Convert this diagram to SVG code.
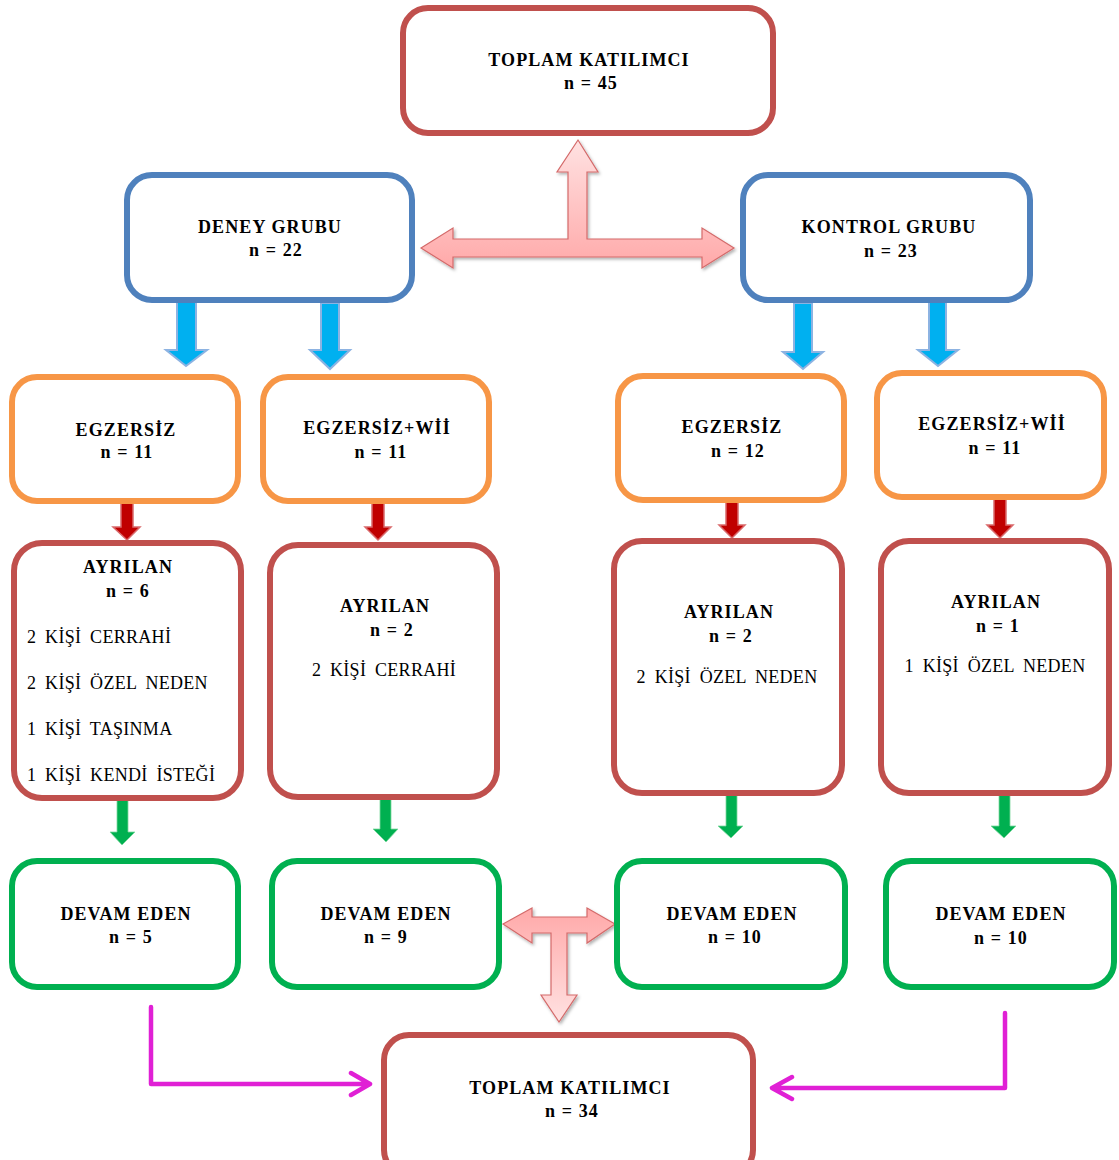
<svg xmlns="http://www.w3.org/2000/svg" width="1119" height="1160" viewBox="0 0 1119 1160">
<defs>
<linearGradient id="pinkUp" x1="0" y1="0" x2="0" y2="1"><stop offset="0" stop-color="#FFE2E2"/><stop offset="1" stop-color="#FFA9A9"/></linearGradient>
<linearGradient id="pinkDown" x1="0" y1="0" x2="0" y2="1"><stop offset="0" stop-color="#FFA9A9"/><stop offset="1" stop-color="#FFE2E2"/></linearGradient>
<filter id="sh" x="-10%" y="-10%" width="130%" height="130%"><feDropShadow dx="1.5" dy="2" stdDeviation="1.5" flood-color="#000" flood-opacity="0.3"/></filter>
</defs>
<style>
.box{fill:#fff;stroke-width:6}
.red{stroke:#C0504D}
.blue{stroke:#4F81BD}
.orange{stroke:#F79646}
.green{stroke:#00B050}
text{font-family:"Liberation Serif","Times New Roman",serif;font-size:18px;fill:#000}
.b{font-weight:bold;text-anchor:middle;letter-spacing:1.1px}
.c{text-anchor:middle}
.n{word-spacing:4px;letter-spacing:0.3px}
.pink{stroke:#D46A6A;stroke-width:1.2}
.cyan{fill:#00B0F0;stroke:#8DB3E2;stroke-width:2}
.dred{fill:#C00000;stroke:#D9696B;stroke-width:1.5}
.grn{fill:#00B050;stroke:#7FD8A0;stroke-width:0.8}
.mag{fill:none;stroke:#E020D5;stroke-width:4.5;stroke-linecap:round;stroke-linejoin:round}
</style>
<g id="connectors">
<path class="pink" fill="url(#pinkUp)" filter="url(#sh)" d="M578,140 L598,172 L587,172 L587,239 L702,239 L702,228 L734,248 L702,268 L702,257 L453,257 L453,268 L421,248 L453,228 L453,239 L568,239 L568,172 L557,172 Z"/>
<path class="pink" fill="url(#pinkDown)" filter="url(#sh)" d="M503,924 L532,908 L532,917 L587,917 L587,908 L615,924 L587,943 L587,933 L567,933 L567,995 L577,995 L559,1022 L541,995 L551,995 L551,933 L532,933 L532,943 Z"/>
<path class="cyan" d="M177,300 L196,300 L196,350 L207,350 L186,366 L166,350 L177,350 Z"/>
<path class="cyan" d="M321,303 L339,303 L339,350 L350,350 L330,369 L310,350 L321,350 Z"/>
<path class="cyan" d="M794,303 L812,303 L812,352 L823,352 L803,369 L783,352 L794,352 Z"/>
<path class="cyan" d="M929,300 L946,300 L946,350 L958,350 L938,366 L918,350 L929,350 Z"/>
<path class="dred" d="M121,502 L133,502 L133,527 L140,527 L127,540 L113,527 L121,527 Z"/>
<path class="dred" d="M372,501 L384,501 L384,527 L391,527 L378,540 L365,527 L372,527 Z"/>
<path class="dred" d="M726,500 L738,500 L738,525 L745,525 L732,538 L719,525 L726,525 Z"/>
<path class="dred" d="M994,497 L1006,497 L1006,525 L1013,525 L1000,538 L987,525 L994,525 Z"/>
<path class="grn" d="M117,800 L128,800 L128,832 L135,832 L122,845 L110,832 L117,832 Z"/>
<path class="grn" d="M380,797 L391,797 L391,829 L398,829 L386,842 L373,829 L380,829 Z"/>
<path class="grn" d="M726,792 L737,792 L737,826 L743,826 L731,838 L718,826 L726,826 Z"/>
<path class="grn" d="M999,792 L1010,792 L1010,826 L1016,826 L1004,838 L991,826 L999,826 Z"/>
<path class="mag" d="M151,1007 L151,1084 L370,1084 M351,1073 L370,1084 L351,1095"/>
<path class="mag" d="M1005,1013 L1005,1088 L772,1088 M792,1077 L772,1088 L792,1099"/>
</g>
<g id="total45"><rect class="box red" x="403" y="8" width="370" height="125" rx="25"/><text class="b" x="589" y="66">TOPLAM KATILIMCI</text><text class="b" x="591" y="89">n = 45</text></g>
<g id="deney"><rect class="box blue" x="127" y="175" width="285" height="125" rx="25"/><text class="b" x="270" y="233">DENEY GRUBU</text><text class="b" x="276" y="256">n = 22</text></g>
<g id="kontrol"><rect class="box blue" x="743" y="175" width="287" height="125" rx="25"/><text class="b" x="889" y="233">KONTROL GRUBU</text><text class="b" x="891" y="257">n = 23</text></g>
<g id="egz1"><rect class="box orange" x="12" y="377" width="226" height="124" rx="25"/><text class="b" x="126" y="436">EGZERSİZ</text><text class="b" x="127" y="458">n = 11</text></g>
<g id="egzwii1"><rect class="box orange" x="263" y="377" width="226" height="124" rx="25"/><text class="b" x="377" y="434">EGZERSİZ+Wİİ</text><text class="b" x="381" y="458">n = 11</text></g>
<g id="egz2"><rect class="box orange" x="618" y="376" width="226" height="124" rx="25"/><text class="b" x="732" y="433">EGZERSİZ</text><text class="b" x="738" y="457">n = 12</text></g>
<g id="egzwii2"><rect class="box orange" x="877" y="373" width="227" height="124" rx="25"/><text class="b" x="992" y="430">EGZERSİZ+Wİİ</text><text class="b" x="995" y="454">n = 11</text></g>
<g id="ayr1"><rect class="box red" x="14" y="543" width="227" height="255" rx="28"/><text class="b" x="128" y="573">AYRILAN</text><text class="b" x="128" y="597">n = 6</text>
<text class="n" x="27" y="643">2 KİŞİ CERRAHİ</text><text class="n" x="27" y="689">2 KİŞİ ÖZEL NEDEN</text><text class="n" x="27" y="735">1 KİŞİ TAŞINMA</text><text class="n" x="27" y="781">1 KİŞİ KENDİ İSTEĞİ</text></g>
<g id="ayr2"><rect class="box red" x="270" y="545" width="227" height="252" rx="28"/><text class="b" x="385" y="612">AYRILAN</text><text class="b" x="392" y="636">n = 2</text><text class="c n" x="384" y="676">2 KİŞİ CERRAHİ</text></g>
<g id="ayr3"><rect class="box red" x="614" y="541" width="228" height="252" rx="28"/><text class="b" x="729" y="618">AYRILAN</text><text class="b" x="731" y="642">n = 2</text><text class="c n" x="727" y="683">2 KİŞİ ÖZEL NEDEN</text></g>
<g id="ayr4"><rect class="box red" x="881" y="541" width="228" height="252" rx="28"/><text class="b" x="996" y="608">AYRILAN</text><text class="b" x="998" y="632">n = 1</text><text class="c n" x="995" y="672">1 KİŞİ ÖZEL NEDEN</text></g>
<g id="devam1"><rect class="box green" x="12" y="861" width="226" height="126" rx="25"/><text class="b" x="126" y="920">DEVAM EDEN</text><text class="b" x="131" y="943">n = 5</text></g>
<g id="devam2"><rect class="box green" x="272" y="861" width="227" height="126" rx="25"/><text class="b" x="386" y="920">DEVAM EDEN</text><text class="b" x="386" y="943">n = 9</text></g>
<g id="devam3"><rect class="box green" x="617" y="861" width="228" height="126" rx="25"/><text class="b" x="732" y="920">DEVAM EDEN</text><text class="b" x="735" y="943">n = 10</text></g>
<g id="devam4"><rect class="box green" x="886" y="861" width="228" height="126" rx="25"/><text class="b" x="1001" y="920">DEVAM EDEN</text><text class="b" x="1001" y="944">n = 10</text></g>
<g id="total34"><rect class="box red" x="384" y="1035" width="369" height="140" rx="25"/><text class="b" x="570" y="1094">TOPLAM KATILIMCI</text><text class="b" x="572" y="1117">n = 34</text></g>
</svg>
